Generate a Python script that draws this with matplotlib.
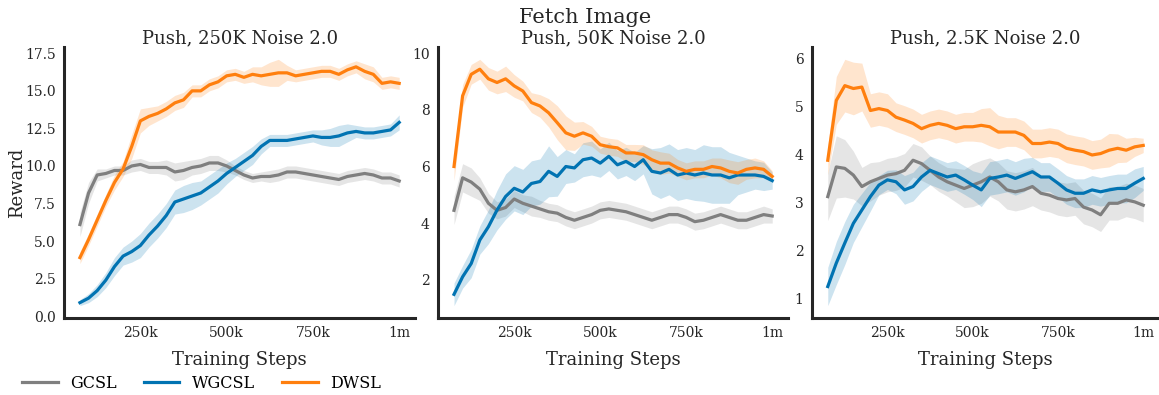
import numpy as np
import matplotlib
matplotlib.use('Agg')
import matplotlib.pyplot as plt

plt.rcParams['font.family'] = ['DejaVu Serif']

STEPS = [75, 100, 125, 150, 175, 200, 225, 250, 275, 300, 325, 350, 375, 400, 425,
         450, 475, 500, 525, 550, 575, 600, 625, 650, 675, 700, 725, 750, 775, 800,
         825, 850, 875, 900, 925, 950, 975, 1000]   # thousands of steps

TITLES = ['Push, 250K Noise 2.0', 'Push, 50K Noise 2.0', 'Push, 2.5K Noise 2.0']
METHODS = ['GCSL', 'WGCSL', 'DWSL']
COLORS = ['#7f7f7f', '#0173b2', '#ff7f0e']

# panel 1: 250K
gcsl_250k = [6.1, 8.2, 9.4, 9.5, 9.7, 9.7, 10.0, 10.1, 9.9, 9.9, 9.9, 9.6, 9.7, 9.9, 10.0,
             10.2, 10.2, 10.0, 9.7, 9.4, 9.2, 9.3, 9.3, 9.4, 9.6, 9.6, 9.5, 9.4, 9.3, 9.2,
             9.1, 9.3, 9.4, 9.5, 9.4, 9.2, 9.2, 9.0]
gcsl_250k_sd = [0.8, 0.7, 0.4, 0.3, 0.3, 0.3, 0.4, 0.4, 0.4, 0.4, 0.5, 0.6, 0.6, 0.5, 0.5,
                0.5, 0.5, 0.4, 0.3, 0.3, 0.3, 0.3, 0.4, 0.4, 0.4, 0.4, 0.4, 0.4, 0.4, 0.4,
                0.4, 0.4, 0.4, 0.4, 0.4, 0.4, 0.4, 0.4]
wgcsl_250k = [0.9, 1.2, 1.7, 2.4, 3.3, 4.0, 4.3, 4.7, 5.4, 6.0, 6.7, 7.6, 7.8, 8.0, 8.2,
              8.6, 9.0, 9.5, 9.9, 10.3, 10.7, 11.3, 11.7, 11.7, 11.7, 11.8, 11.9, 12.0, 11.9, 11.9,
              12.0, 12.2, 12.3, 12.2, 12.2, 12.3, 12.4, 12.9]
wgcsl_250k_sd = [0.2, 0.3, 0.4, 0.5, 0.6, 0.6, 0.7, 0.8, 0.8, 0.8, 0.8, 0.8, 0.9, 0.9, 0.8,
                 0.8, 0.8, 0.7, 0.6, 0.6, 0.6, 0.5, 0.4, 0.4, 0.4, 0.4, 0.4, 0.4, 0.5, 0.6,
                 0.7, 0.6, 0.4, 0.4, 0.4, 0.4, 0.4, 0.5]
dwsl_250k = [3.9, 5.1, 6.4, 7.7, 8.9, 9.8, 11.3, 13.0, 13.3, 13.5, 13.8, 14.2, 14.4, 15.0, 15.0,
             15.4, 15.6, 16.0, 16.1, 15.9, 16.1, 16.0, 16.1, 16.2, 16.2, 16.0, 16.1, 16.2, 16.3, 16.3,
             16.1, 16.4, 16.6, 16.3, 16.1, 15.5, 15.6, 15.5]
dwsl_250k_sd = [0.4, 0.4, 0.4, 0.4, 0.5, 0.5, 0.8, 0.8, 0.6, 0.5, 0.5, 0.5, 0.5, 0.4, 0.4,
                0.4, 0.4, 0.4, 0.4, 0.4, 0.5, 0.6, 0.8, 0.9, 0.5, 0.4, 0.4, 0.4, 0.4, 0.4,
                0.4, 0.4, 0.4, 0.5, 0.5, 0.4, 0.4, 0.4]

# panel 2: 50K
gcsl_50k = [4.45, 5.6, 5.45, 5.2, 4.7, 4.45, 4.55, 4.85, 4.7, 4.6, 4.5, 4.4, 4.35, 4.2, 4.1,
            4.2, 4.3, 4.45, 4.5, 4.45, 4.4, 4.3, 4.2, 4.1, 4.2, 4.3, 4.3, 4.2, 4.05, 4.1,
            4.2, 4.3, 4.2, 4.1, 4.1, 4.2, 4.3, 4.25]
gcsl_50k_sd = [0.5, 0.5, 0.5, 0.4, 0.35, 0.3, 0.3, 0.3, 0.3, 0.35, 0.3, 0.3, 0.3, 0.3, 0.3,
               0.3, 0.3, 0.3, 0.3, 0.3, 0.3, 0.3, 0.3, 0.3, 0.3, 0.3, 0.3, 0.3, 0.3, 0.3,
               0.3, 0.3, 0.3, 0.3, 0.3, 0.3, 0.3, 0.25]
wgcsl_50k = [1.48, 2.1, 2.57, 3.4, 3.87, 4.46, 4.94, 5.23, 5.1, 5.4, 5.47, 5.83, 5.65, 6.0, 5.95,
             6.24, 6.3, 6.12, 6.36, 6.06, 6.18, 6.0, 6.24, 5.83, 5.77, 5.9, 5.7, 5.77, 5.7, 5.77,
             5.7, 5.7, 5.6, 5.7, 5.7, 5.7, 5.65, 5.5]
wgcsl_50k_sd = [0.4, 0.4, 0.5, 0.5, 0.6, 0.7, 0.8, 0.8, 0.8, 0.8, 0.8, 0.9, 0.7, 0.6, 0.5,
                0.6, 0.6, 0.5, 0.5, 0.5, 0.5, 0.5, 0.5, 0.8, 0.9, 0.9, 0.9, 0.9, 0.9, 1.0,
                1.0, 1.0, 0.9, 0.7, 0.6, 0.5, 0.5, 0.3]
dwsl_50k = [6.0, 8.5, 9.26, 9.44, 9.1, 8.97, 9.1, 8.85, 8.67, 8.26, 8.14, 7.9, 7.55, 7.19, 7.07,
            7.19, 7.07, 6.77, 6.7, 6.66, 6.48, 6.48, 6.42, 6.24, 6.12, 6.12, 5.95, 5.83, 5.9, 5.9,
            6.0, 5.95, 5.83, 5.77, 5.9, 5.95, 5.9, 5.65]
dwsl_50k_sd = [0.5, 0.4, 0.35, 0.35, 0.4, 0.4, 0.45, 0.4, 0.35, 0.35, 0.4, 0.5, 0.6, 0.6, 0.5,
               0.4, 0.35, 0.3, 0.3, 0.3, 0.3, 0.3, 0.35, 0.35, 0.4, 0.35, 0.3, 0.3, 0.3, 0.3,
               0.3, 0.35, 0.4, 0.4, 0.35, 0.35, 0.3, 0.2]

# panel 3: 2.5K
gcsl_2k5 = [3.12, 3.74, 3.71, 3.57, 3.33, 3.43, 3.5, 3.57, 3.6, 3.67, 3.88, 3.81, 3.67, 3.53, 3.43,
            3.36, 3.29, 3.36, 3.43, 3.53, 3.43, 3.26, 3.22, 3.26, 3.33, 3.19, 3.15, 3.08, 3.05, 3.08,
            2.9, 2.84, 2.74, 2.98, 2.98, 3.05, 3.01, 2.94]
gcsl_2k5_sd = [0.5, 0.65, 0.6, 0.5, 0.4, 0.4, 0.35, 0.35, 0.35, 0.35, 0.35, 0.35, 0.3, 0.3, 0.3,
               0.35, 0.4, 0.45, 0.45, 0.4, 0.4, 0.4, 0.4, 0.4, 0.4, 0.35, 0.35, 0.35, 0.35, 0.35,
               0.35, 0.35, 0.35, 0.35, 0.35, 0.35, 0.35, 0.35]
wgcsl_2k5 = [1.24, 1.73, 2.15, 2.56, 2.84, 3.12, 3.36, 3.47, 3.43, 3.26, 3.33, 3.53, 3.67, 3.6, 3.53,
             3.57, 3.47, 3.36, 3.26, 3.5, 3.53, 3.57, 3.5, 3.57, 3.64, 3.53, 3.53, 3.4, 3.26, 3.19,
             3.19, 3.26, 3.22, 3.26, 3.29, 3.29, 3.4, 3.5]
wgcsl_2k5_sd = [0.4, 0.45, 0.45, 0.4, 0.35, 0.3, 0.2, 0.2, 0.25, 0.3, 0.3, 0.3, 0.3, 0.3, 0.3,
                0.3, 0.3, 0.3, 0.35, 0.35, 0.35, 0.35, 0.35, 0.35, 0.3, 0.3, 0.3, 0.3, 0.3, 0.3,
                0.3, 0.3, 0.3, 0.3, 0.3, 0.3, 0.3, 0.25]
dwsl_2k5 = [3.88, 5.13, 5.44, 5.38, 5.41, 4.92, 4.96, 4.92, 4.78, 4.72, 4.65, 4.54, 4.61, 4.65, 4.61,
            4.54, 4.58, 4.58, 4.61, 4.58, 4.47, 4.47, 4.47, 4.4, 4.23, 4.23, 4.26, 4.23, 4.13, 4.09,
            4.06, 3.99, 4.02, 4.09, 4.13, 4.09, 4.16, 4.19]
dwsl_2k5_sd = [0.3, 0.5, 0.55, 0.55, 0.5, 0.35, 0.35, 0.35, 0.3, 0.3, 0.3, 0.3, 0.3, 0.3, 0.3,
               0.3, 0.3, 0.3, 0.35, 0.4, 0.35, 0.3, 0.3, 0.3, 0.3, 0.3, 0.3, 0.3, 0.3, 0.3,
               0.3, 0.3, 0.3, 0.35, 0.3, 0.25, 0.2, 0.15]

PANELS = [
    [(gcsl_250k, gcsl_250k_sd), (wgcsl_250k, wgcsl_250k_sd), (dwsl_250k, dwsl_250k_sd)],
    [(gcsl_50k, gcsl_50k_sd), (wgcsl_50k, wgcsl_50k_sd), (dwsl_50k, dwsl_50k_sd)],
    [(gcsl_2k5, gcsl_2k5_sd), (wgcsl_2k5, wgcsl_2k5_sd), (dwsl_2k5, dwsl_2k5_sd)],
]
YTICKS = [[0.0, 2.5, 5.0, 7.5, 10.0, 12.5, 15.0, 17.5], [2, 4, 6, 8, 10], [1, 2, 3, 4, 5, 6]]
YFMT = ['{:.1f}', '{:d}', '{:d}']

fig = plt.figure(figsize=(11.59, 3.95), dpi=100)
lefts = [0.0552, 0.378, 0.7006]
widths = [0.303, 0.302, 0.2994]
x = np.array(STEPS) * 1000.0
handles = []
for p in range(3):
    ax = fig.add_axes([lefts[p], 0.195, widths[p], 0.686])
    for (m, sd), name, c in zip(PANELS[p], METHODS, COLORS):
        m = np.array(m)
        sd = np.array(sd)
        ax.fill_between(x, m - sd, m + sd, color=c, alpha=0.2, lw=0)
        h, = ax.plot(x, m, color=c, lw=2.3, label=name)
        if p == 0:
            handles.append(h)
    for s in ('top', 'right'):
        ax.spines[s].set_visible(False)
    for s in ('left', 'bottom'):
        ax.spines[s].set_color('#262626')
        ax.spines[s].set_linewidth(2.2)
    ax.set_xticks([250e3, 500e3, 750e3, 1e6])
    ax.set_xticklabels(['250k', '500k', '750k', '1m'])
    ax.set_yticks(YTICKS[p])
    ax.set_yticklabels([YFMT[p].format(v) for v in YTICKS[p]])
    ax.tick_params(length=0, labelsize=10, colors='#262626', pad=6)
    ax.set_xlabel('Training Steps', fontsize=13, color='#262626', labelpad=8)
    ax.set_title(TITLES[p], fontsize=13, color='#262626', pad=1.5)
    if p == 0:
        ax.set_ylabel('Reward', fontsize=13, color='#262626', labelpad=-1)

fig.text(0.505, 0.955, 'Fetch Image', ha='center', va='center', fontsize=15, color='#262626')
fig.legend(handles=handles, loc='center left', bbox_to_anchor=(0.007, 0.03), ncol=3,
           frameon=False, fontsize=11.5, handlelength=2.2, handletextpad=0.8,
           columnspacing=1.7)
fig.savefig('out.png', dpi=100)
